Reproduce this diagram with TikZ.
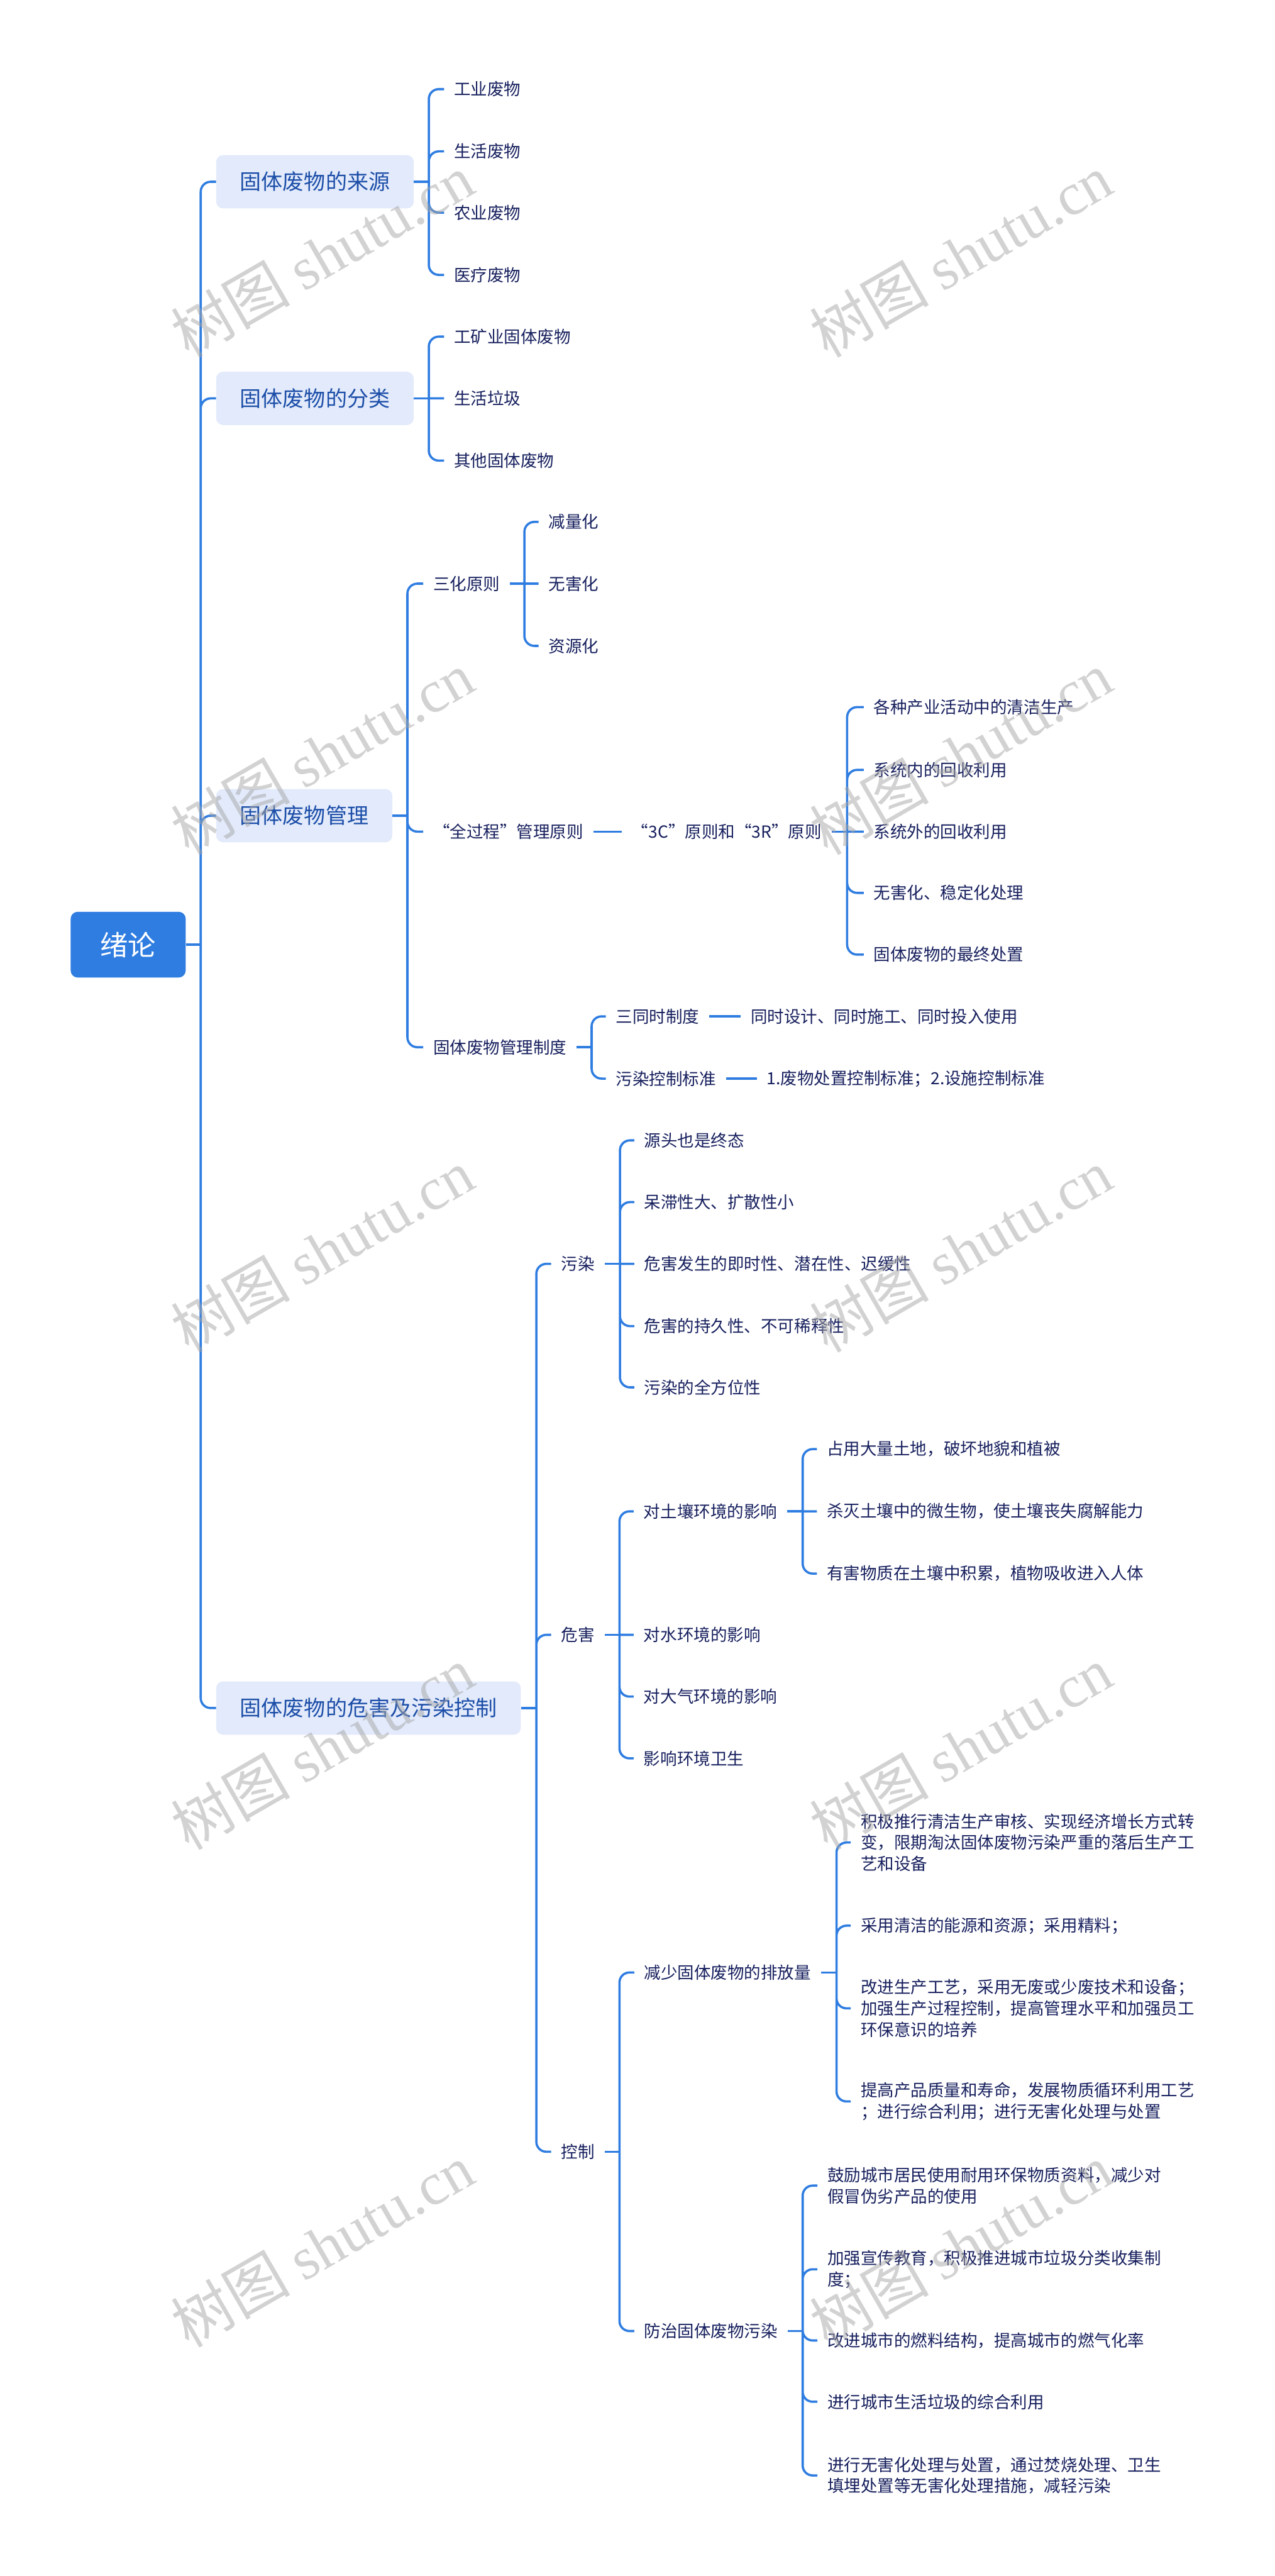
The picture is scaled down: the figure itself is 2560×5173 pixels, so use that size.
\documentclass[tikz,border=0pt]{standalone}
\usepackage{fontspec}
\setmainfont{Noto Sans CJK SC}
\newfontfamily\wmfont{Liberation Serif}
\usepackage{xcolor}
\usepackage{tikz}

\definecolor{rootblue}{RGB}{47,125,225}
\definecolor{topicfill}{RGB}{226,234,251}
\definecolor{topictext}{RGB}{28,78,168}
\definecolor{leaftext}{RGB}{23,32,94}
\newcommand\fwq[1]{{\addfontfeatures{RawFeature=+fwid}#1}}

\begin{document}
\begin{tikzpicture}[x=1pt,y=-1pt,
  link/.style={draw=rootblue,line width=4.5pt,rounded corners=20pt},
  rootbox/.style={fill=rootblue,rounded corners=14pt,text=white,font=\fontsize{56}{60}\selectfont,minimum width=231pt,minimum height=132pt,inner sep=0pt},
  topic/.style={fill=topicfill,rounded corners=14pt,text=topictext,font=\fontsize{43}{50}\selectfont,inner xsep=48pt,minimum height=107pt,anchor=west},
  leaf/.style={text=leaftext,font=\fontsize{33.5}{42.5}\selectfont,inner xsep=20pt,inner ysep=4pt,anchor=west,align=left},
  wm/.style={text=black!35,opacity=0.5,font=\fontsize{120}{120}\selectfont,rotate=30}]
  \fill[white] (0,0) rectangle (2560,5173);
  \useasboundingbox (0,0) rectangle (2560,5173);

  \node[rootbox] (root) at (257.5,1897) {绪论};

  \node[topic] (t1) at (434,365) {固体废物的来源};
  \node[topic] (t2) at (434,800) {固体废物的分类};
  \node[topic] (t3) at (434,1638) {固体废物管理};
  \node[topic] (t4) at (434,3430) {固体废物的危害及污染控制};

  \node[leaf] (a1) at (892,179) {工业废物};
  \node[leaf] (a2) at (892,304) {生活废物};
  \node[leaf] (a3) at (892,427) {农业废物};
  \node[leaf] (a4) at (892,552) {医疗废物};

  \node[leaf] (b1) at (892,676) {工矿业固体废物};
  \node[leaf] (b2) at (892,800) {生活垃圾};
  \node[leaf] (b3) at (892,925) {其他固体废物};

  \node[leaf] (c1) at (850,1172) {三化原则};
  \node[leaf] (c2) at (850,1670) {\fwq{“}全过程\fwq{”}管理原则};
  \node[leaf] (c3) at (850,2103) {固体废物管理制度};
  \node[leaf] (c11) at (1082,1048) {减量化};
  \node[leaf] (c12) at (1082,1172) {无害化};
  \node[leaf] (c13) at (1082,1297) {资源化};
  \node[leaf] (c21) at (1249,1670) {\fwq{“}3C\fwq{”}原则和\fwq{“}3R\fwq{”}原则};
  \node[leaf] (c211) at (1735,1420) {各种产业活动中的清洁生产};
  \node[leaf] (c212) at (1735,1546) {系统内的回收利用};
  \node[leaf] (c213) at (1735,1670) {系统外的回收利用};
  \node[leaf] (c214) at (1735,1793) {无害化、稳定化处理};
  \node[leaf] (c215) at (1735,1917) {固体废物的最终处置};
  \node[leaf] (c31) at (1217,2041) {三同时制度};
  \node[leaf] (c32) at (1217,2166) {污染控制标准};
  \node[leaf] (c311) at (1488,2041) {同时设计、同时施工、同时投入使用};
  \node[leaf] (c321) at (1520,2166) {1.废物处置控制标准；2.设施控制标准};

  \node[leaf] (d1) at (1107,2538) {污染};
  \node[leaf] (d2) at (1107,3283) {危害};
  \node[leaf] (d3) at (1107,4321) {控制};
  \node[leaf] (d11) at (1274,2290) {源头也是终态};
  \node[leaf] (d12) at (1274,2414) {呆滞性大、扩散性小};
  \node[leaf] (d13) at (1274,2538) {危害发生的即时性、潜在性、迟缓性};
  \node[leaf] (d14) at (1274,2663) {危害的持久性、不可稀释性};
  \node[leaf] (d15) at (1274,2786) {污染的全方位性};
  \node[leaf] (d21) at (1273,3035) {对土壤环境的影响};
  \node[leaf] (d22) at (1273,3283) {对水环境的影响};
  \node[leaf] (d23) at (1273,3407) {对大气环境的影响};
  \node[leaf] (d24) at (1273,3531) {影响环境卫生};
  \node[leaf] (d211) at (1641,2910) {占用大量土地，破坏地貌和植被};
  \node[leaf] (d212) at (1641,3035) {杀灭土壤中的微生物，使土壤丧失腐解能力};
  \node[leaf] (d213) at (1641,3160) {有害物质在土壤中积累，植物吸收进入人体};
  \node[leaf] (d31) at (1274,3961) {减少固体废物的排放量};
  \node[leaf] (d32) at (1274,4681) {防治固体废物污染};
  \node[leaf] (d311) at (1709,3700) {积极推行清洁生产审核、实现经济增长方式转\\变，限期淘汰固体废物污染严重的落后生产工\\艺和设备};
  \node[leaf] (d312) at (1709,3867) {采用清洁的能源和资源；采用精料；};
  \node[leaf] (d313) at (1709,4033) {改进生产工艺，采用无废或少废技术和设备；\\加强生产过程控制，提高管理水平和加强员工\\环保意识的培养};
  \node[leaf] (d314) at (1709,4220) {提高产品质量和寿命，发展物质循环利用工艺\\；进行综合利用；进行无害化处理与处置};
  \node[leaf] (d321) at (1642,4389) {鼓励城市居民使用耐用环保物质资料，减少对\\假冒伪劣产品的使用};
  \node[leaf] (d322) at (1642,4557) {加强宣传教育，积极推进城市垃圾分类收集制\\度；};
  \node[leaf] (d323) at (1642,4700) {改进城市的燃料结构，提高城市的燃气化率};
  \node[leaf] (d324) at (1642,4823) {进行城市生活垃圾的综合利用};
  \node[leaf] (d325) at (1642,4971) {进行无害化处理与处置，通过焚烧处理、卫生\\填埋处置等无害化处理措施，减轻污染};

  \coordinate (j0) at ([xshift=30pt]root.east);
  \coordinate (jt1) at ([xshift=30pt]t1.east);
  \coordinate (jt2) at ([xshift=30pt]t2.east);
  \coordinate (jt3) at ([xshift=30pt]t3.east);
  \coordinate (jt4) at ([xshift=31pt]t4.east);
  \coordinate (jc1) at ([xshift=29pt]c1.east);
  \coordinate (jc21) at ([xshift=31pt]c21.east);
  \coordinate (jc3) at ([xshift=30pt]c3.east);
  \coordinate (jd1) at ([xshift=31pt]d1.east);
  \coordinate (jd2) at ([xshift=30pt]d2.east);
  \coordinate (jd21) at ([xshift=31pt]d21.east);
  \coordinate (jd3) at ([xshift=30pt]d3.east);
  \coordinate (jd31) at ([xshift=31pt]d31.east);
  \coordinate (jd32) at ([xshift=30pt]d32.east);

  \draw[link] (root.east) -- (j0);
  \draw[link] (j0) |- (t1.west) (j0) |- (t2.west) (j0) |- (t3.west) (j0) |- (t4.west);
  \draw[link] (t1.east) -- (jt1);
  \draw[link] (jt1) |- (a1.west) (jt1) |- (a2.west) (jt1) |- (a3.west) (jt1) |- (a4.west);
  \draw[link] (t2.east) -- (jt2);
  \draw[link] (jt2) |- (b1.west) (jt2) -- (b2.west) (jt2) |- (b3.west);
  \draw[link] (t3.east) -- (jt3);
  \draw[link] (jt3) |- (c1.west) (jt3) |- (c2.west) (jt3) |- (c3.west);
  \draw[link] (c1.east) -- (jc1);
  \draw[link] (jc1) |- (c11.west) (jc1) -- (c12.west) (jc1) |- (c13.west);
  \draw[link] (c2.east) -- (c21.west);
  \draw[link] (c21.east) -- (jc21);
  \draw[link] (jc21) |- (c211.west) (jc21) |- (c212.west) (jc21) -- (c213.west) (jc21) |- (c214.west) (jc21) |- (c215.west);
  \draw[link] (c3.east) -- (jc3);
  \draw[link] (jc3) |- (c31.west) (jc3) |- (c32.west);
  \draw[link] (c31.east) -- (c311.west);
  \draw[link] (c32.east) -- (c321.west);
  \draw[link] (t4.east) -- (jt4);
  \draw[link] (jt4) |- (d1.west) (jt4) |- (d2.west) (jt4) |- (d3.west);
  \draw[link] (d1.east) -- (jd1);
  \draw[link] (jd1) |- (d11.west) (jd1) |- (d12.west) (jd1) -- (d13.west) (jd1) |- (d14.west) (jd1) |- (d15.west);
  \draw[link] (d2.east) -- (jd2);
  \draw[link] (jd2) |- (d21.west) (jd2) -- (d22.west) (jd2) |- (d23.west) (jd2) |- (d24.west);
  \draw[link] (d21.east) -- (jd21);
  \draw[link] (jd21) |- (d211.west) (jd21) -- (d212.west) (jd21) |- (d213.west);
  \draw[link] (d3.east) -- (jd3);
  \draw[link] (jd3) |- (d31.west) (jd3) |- (d32.west);
  \draw[link] (d31.east) -- (jd31);
  \draw[link] (jd31) |- (d311.west) (jd31) |- (d312.west) (jd31) |- (d313.west) (jd31) |- (d314.west);
  \draw[link] (d32.east) -- (jd32);
  \draw[link] (jd32) |- (d321.west) (jd32) |- (d322.west) (jd32) |- (d323.west) (jd32) |- (d324.west) (jd32) |- (d325.west);

  \node[wm] (w1) at (647,513) {树图 {\wmfont shutu.cn}};
  \node[wm] (w2) at (1930,513) {树图 {\wmfont shutu.cn}};
  \node[wm] (w3) at (647,1512) {树图 {\wmfont shutu.cn}};
  \node[wm] (w4) at (1930,1512) {树图 {\wmfont shutu.cn}};
  \node[wm] (w5) at (647,2511) {树图 {\wmfont shutu.cn}};
  \node[wm] (w6) at (1930,2511) {树图 {\wmfont shutu.cn}};
  \node[wm] (w7) at (647,3510) {树图 {\wmfont shutu.cn}};
  \node[wm] (w8) at (1930,3510) {树图 {\wmfont shutu.cn}};
  \node[wm] (w9) at (647,4509) {树图 {\wmfont shutu.cn}};
  \node[wm] (w10) at (1930,4509) {树图 {\wmfont shutu.cn}};
\end{tikzpicture}
\end{document}
